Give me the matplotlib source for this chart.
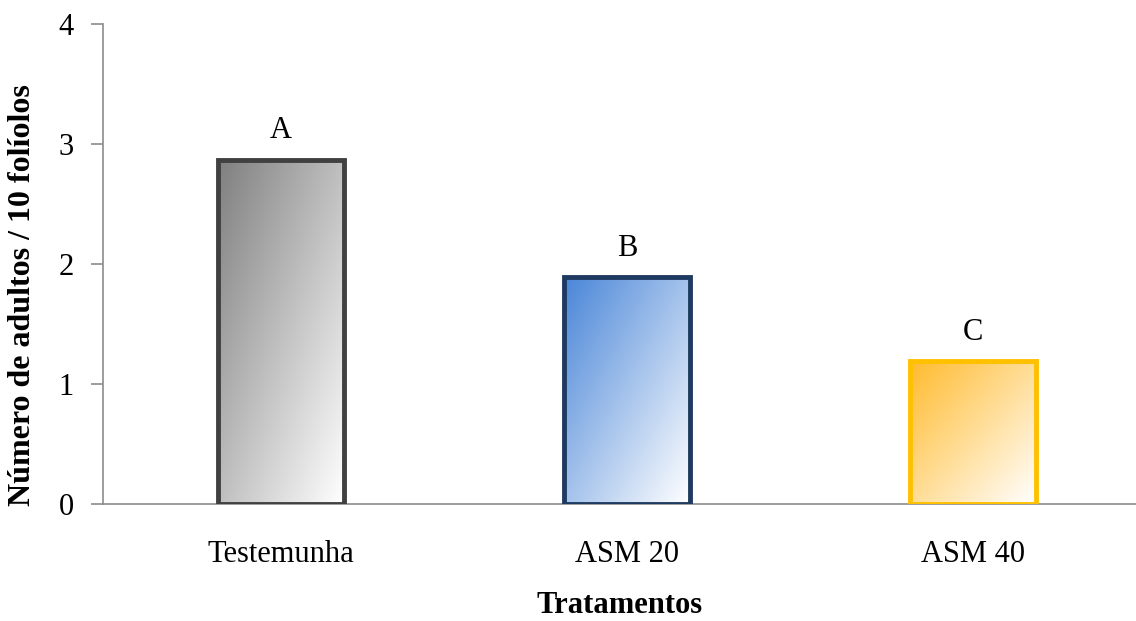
import numpy as np
import matplotlib.pyplot as plt
from matplotlib.colors import LinearSegmentedColormap

plt.rcParams['font.family'] = ['Liberation Serif', 'DejaVu Serif']

# Mean adults per 10 leaflets for each treatment
tratamentos = ["Testemunha", "ASM 20", "ASM 40"]
medias = [2.87, 1.89, 1.19]
letras = ["A", "B", "C"]

cores_fundo = ["#7f7f7f", "#4a86d8", "#ffbb2e"]
cores_borda = ["#404040", "#1f3a60", "#ffc000"]

fig = plt.figure(figsize=(11.36, 6.21), dpi=100)
ax = fig.add_axes([103 / 1136, 117 / 621, 1 - 103 / 1136, 480 / 621])

x = np.arange(len(tratamentos))
largura = 0.364
barras = ax.bar(x, medias, width=largura, color="none",
                edgecolor=cores_borda, linewidth=3.5, zorder=3)

# diagonal gradient fill: dark top-left to white bottom-right
gx, gy = np.meshgrid(np.linspace(0, 1, 200), np.linspace(0, 1, 200))
grad = (gx + gy) / 2
for barra, cor in zip(barras, cores_fundo):
    cmap = LinearSegmentedColormap.from_list("g", [cor, "#ffffff"])
    x0, y0 = barra.get_x(), barra.get_y()
    w, h = barra.get_width(), barra.get_height()
    im = ax.imshow(grad, cmap=cmap, extent=[x0, x0 + w, y0, y0 + h],
                   origin="upper", aspect="auto", zorder=2, vmin=0, vmax=1)
    im.set_clip_path(barra)

for xi, v, l in zip(x, medias, letras):
    ax.text(xi, v + 0.12, l, ha="center", va="bottom", fontsize=22)

ax.set_xlim(-0.514, 2.471)
ax.set_ylim(0, 4)
ax.set_yticks([0, 1, 2, 3, 4])
ax.set_xticks(x)
ax.set_xticklabels(tratamentos)
ax.tick_params(axis="x", length=0, pad=26, labelsize=22)
ax.tick_params(axis="y", direction="out", length=9, width=1.2,
               color="#8c8c8c", pad=12, labelsize=22)
for s in ["top", "right"]:
    ax.spines[s].set_visible(False)
for s in ["left", "bottom"]:
    ax.spines[s].set_color("#8c8c8c")
    ax.spines[s].set_linewidth(1.2)

ax.set_xlabel("Tratamentos", fontsize=22, fontweight="bold", labelpad=16)
ax.set_ylabel("Número de adultos / 10 folíolos", fontsize=23,
              fontweight="bold")
ax.yaxis.set_label_coords(-66 / 1033, 0.435)

fig.savefig("out.png", dpi=100)
